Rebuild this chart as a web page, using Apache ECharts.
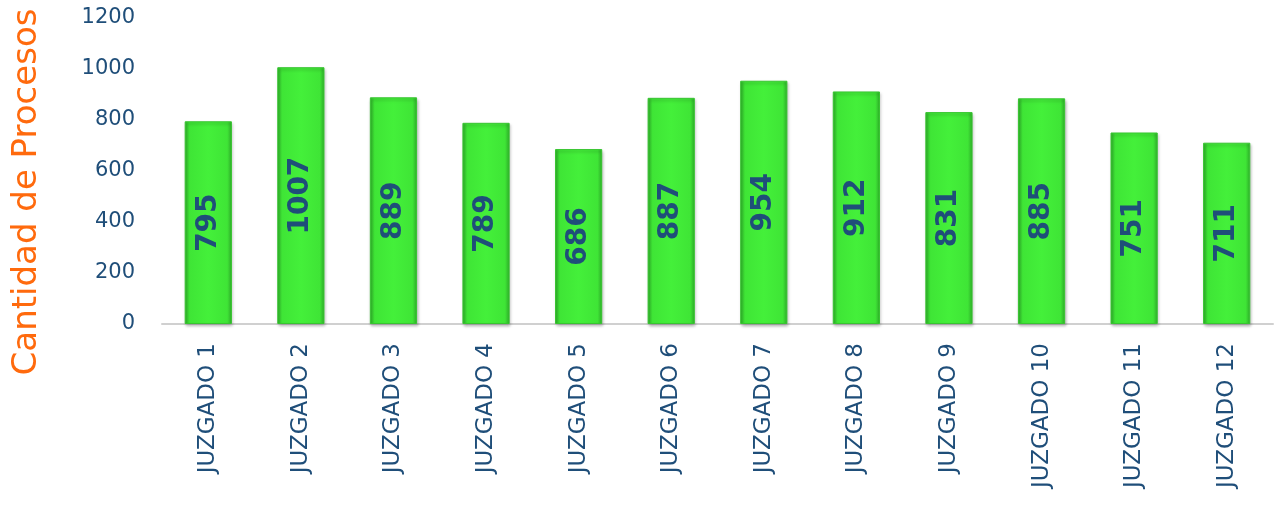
<!DOCTYPE html>
<html><head><meta charset="utf-8">
<script src="https://cdn.jsdelivr.net/npm/echarts@6/dist/echarts.min.js"></script>
<style>html,body{margin:0;padding:0;background:#fff}#c{width:1283px;height:526px}</style>
</head><body><div id="c"></div>
<script>
const categories = ["JUZGADO 1","JUZGADO 2","JUZGADO 3","JUZGADO 4","JUZGADO 5","JUZGADO 6","JUZGADO 7","JUZGADO 8","JUZGADO 9","JUZGADO 10","JUZGADO 11","JUZGADO 12"];
const values = [795,1007,889,789,686,887,954,912,831,885,751,711];
const yTitle = "Cantidad de Procesos";

const chart = echarts.init(document.getElementById('c'));
const blue = '#1F4E79';
chart.setOption({
  animation: false,
  grid: {left: 162, right: 10, top: 18, bottom: 202},
  graphic: [{
    type: 'text', x: 10, y: 192, rotation: Math.PI / 2,
    style: {text: yTitle, fill: '#FF6A0D', font: '34px "DejaVu Sans"',
            align: 'center', verticalAlign: 'top'}
  }],
  xAxis: {
    type: 'category', data: categories,
    axisLine: {lineStyle: {color: '#d0d0d0', width: 2}},
    axisTick: {show: false},
    axisLabel: {rotate: 90, color: blue, fontSize: 23, fontFamily: 'DejaVu Sans', margin: 19}
  },
  yAxis: {
    type: 'value', min: 0, max: 1200, interval: 200,
    axisLine: {show: false}, axisTick: {show: false},
    splitLine: {show: false},
    axisLabel: {color: blue, fontSize: 21, fontFamily: 'DejaVu Sans', margin: 27,
                formatter: v => String(v)}
  },
  series: [{
    type: 'bar', data: values, barCategoryGap: '49%',
    itemStyle: {
      color: new echarts.graphic.LinearGradient(0, 0, 1, 0, [
        {offset: 0, color: '#2fae2a'},
        {offset: 0.1, color: '#3fe536'},
        {offset: 0.5, color: '#44f03a'},
        {offset: 0.9, color: '#3fe536'},
        {offset: 1, color: '#2fae2a'}
      ]),
      borderColor: '#37c530', borderWidth: 1,
      shadowColor: 'rgba(0,0,0,0.25)', shadowBlur: 3, shadowOffsetX: 1, shadowOffsetY: 2
    },
    label: {
      show: true, position: 'inside', rotate: 90,
      color: blue, fontSize: 28, fontWeight: 'bold', fontFamily: 'DejaVu Sans'
    }
  }]
});
</script></body></html>
